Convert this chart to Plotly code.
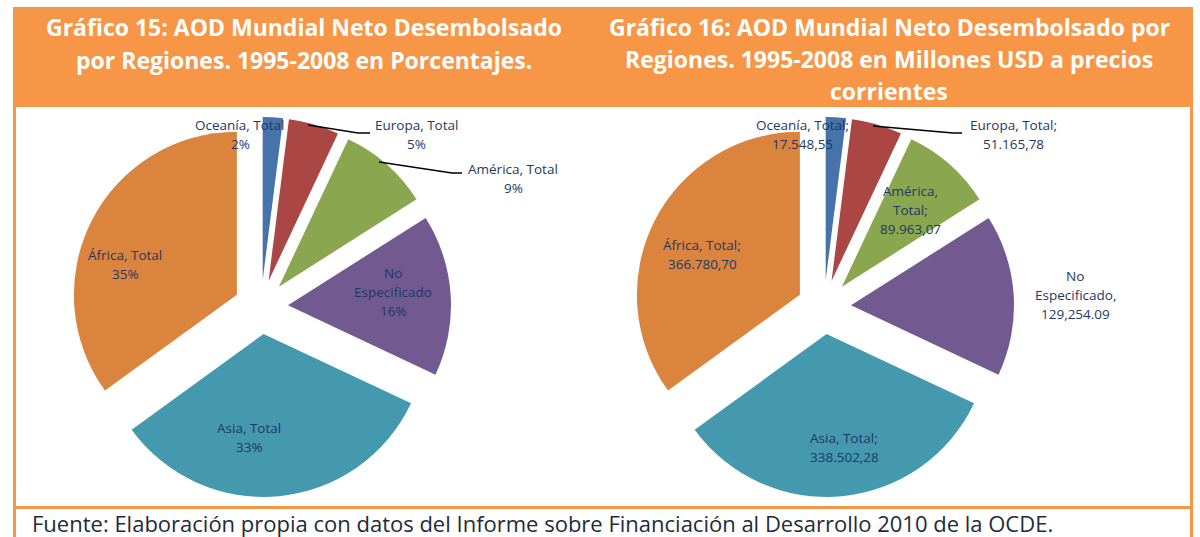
import plotly.graph_objects as go

# ---------------- data ----------------
regions = ["Oceanía", "Europa", "América", "No Especificado", "Asia", "África"]
share_pct = [2, 5, 9, 16, 33, 35]
usd_millions_text = ["17.548,55", "51.165,78", "89.963,07", "129,254.09", "338.502,28", "366.780,70"]

title_left = ["Gráfico 15: AOD Mundial Neto Desembolsado",
              "por Regiones. 1995-2008 en Porcentajes."]
title_right = ["Gráfico 16: AOD Mundial Neto Desembolsado por",
               "Regiones. 1995-2008 en Millones USD a precios",
               "corrientes"]
footer = "Fuente: Elaboración propia con datos del Informe sobre Financiación al Desarrollo 2010 de la OCDE."

# ---------------- style ----------------
slice_colors = ["#4673A9", "#AA4744", "#8AA64F", "#725A90", "#4499AF", "#DB843E"]
ORANGE = "#F79646"
LABEL_COLOR = "#1F3864"
FONT = "Open Sans"

W, H = 1200, 537


def px(x):
    return x / W


def py(y):
    return 1 - y / H


R = 163
PULL = 0.166
HALF = R * (1 + PULL)
CY = 307
centers_x = [261, 824]

fig = go.Figure()
for cx in centers_x:
    fig.add_trace(go.Pie(
        labels=regions, values=share_pct, sort=False, direction="clockwise",
        rotation=0, pull=[PULL] * len(regions), textinfo="none",
        hoverinfo="label+value", showlegend=False,
        marker=dict(colors=slice_colors, line=dict(width=0)),
        domain=dict(x=[px(cx - HALF), px(cx + HALF)], y=[py(CY + HALF), py(CY - HALF)]),
    ))

shapes = []
# orange title band
shapes.append(dict(type="rect", xref="paper", yref="paper", x0=px(13), x1=px(1193),
                   y0=py(107), y1=py(7), fillcolor=ORANGE, line=dict(width=0), layer="below"))
# frame lines
shapes.append(dict(type="line", xref="paper", yref="paper", x0=px(14.5), x1=px(14.5),
                   y0=py(107), y1=py(537), line=dict(color=ORANGE, width=3)))
shapes.append(dict(type="line", xref="paper", yref="paper", x0=px(1191.5), x1=px(1191.5),
                   y0=py(107), y1=py(537), line=dict(color=ORANGE, width=3)))
shapes.append(dict(type="line", xref="paper", yref="paper", x0=px(13), x1=px(1193),
                   y0=py(507.5), y1=py(507.5), line=dict(color=ORANGE, width=3)))


def leader(points):
    path = "M " + " L ".join(f"{px(x)},{py(y)}" for x, y in points)
    shapes.append(dict(type="path", xref="paper", yref="paper", path=path,
                       line=dict(color="black", width=1.3)))


leader([(308, 125), (358, 133), (370, 133)])
leader([(379, 162), (452, 173), (462, 173)])
leader([(873, 126), (953, 133), (962, 133)])

annotations = []


def add_lines(lines, cx, y0, step, size, color, bold=False, anchor="center"):
    for i, t in enumerate(lines):
        txt = f"<b>{t}</b>" if bold else t
        annotations.append(dict(text=txt, x=px(cx), y=py(y0 + i * step), xref="paper", yref="paper",
                                xanchor=anchor, yanchor="middle", showarrow=False,
                                font=dict(family=FONT, size=size, color=color)))


# titles
add_lines(title_left, 304, 27, 32.5, 23, "white", bold=True)
add_lines(title_right, 889, 27, 32, 23, "white", bold=True)

# left chart labels (percentages)
left_pos = [(240, 125), (417, 125), (513, 169), (393, 273), (249, 428), (125, 255)]
for name, pct, (x, y) in zip(regions, share_pct, left_pos):
    if name == "No Especificado":
        lines = ["No", "Especificado", f"{pct}%"]
    else:
        lines = [f"{name}, Total", f"{pct}%"]
    add_lines(lines, x, y, 19, 13.5, LABEL_COLOR)

# right chart labels (million USD)
right_pos = [(802, 125), (1013, 125), (910, 191), (1075, 276), (844, 438), (702, 245)]
for name, val, (x, y) in zip(regions, usd_millions_text, right_pos):
    if name == "No Especificado":
        lines = ["No", "Especificado,", val]
    elif name == "América":
        lines = ["América,", "Total;", val]
    else:
        lines = [f"{name}, Total;", val]
    add_lines(lines, x, y, 19, 13.5, LABEL_COLOR)

# footer
annotations.append(dict(text=footer, x=px(30), y=py(523), xref="paper", yref="paper",
                        xanchor="left", yanchor="middle", showarrow=False,
                        font=dict(family=FONT, size=22, color="#1E2B3C")))

fig.update_layout(width=W, height=H, margin=dict(l=0, r=0, t=0, b=0),
                  paper_bgcolor="white", plot_bgcolor="white",
                  shapes=shapes, annotations=annotations)

fig.write_html("out.html", config={"displayModeBar": False},
               post_script="document.body.style.margin='0px';document.body.style.padding='0px';")
